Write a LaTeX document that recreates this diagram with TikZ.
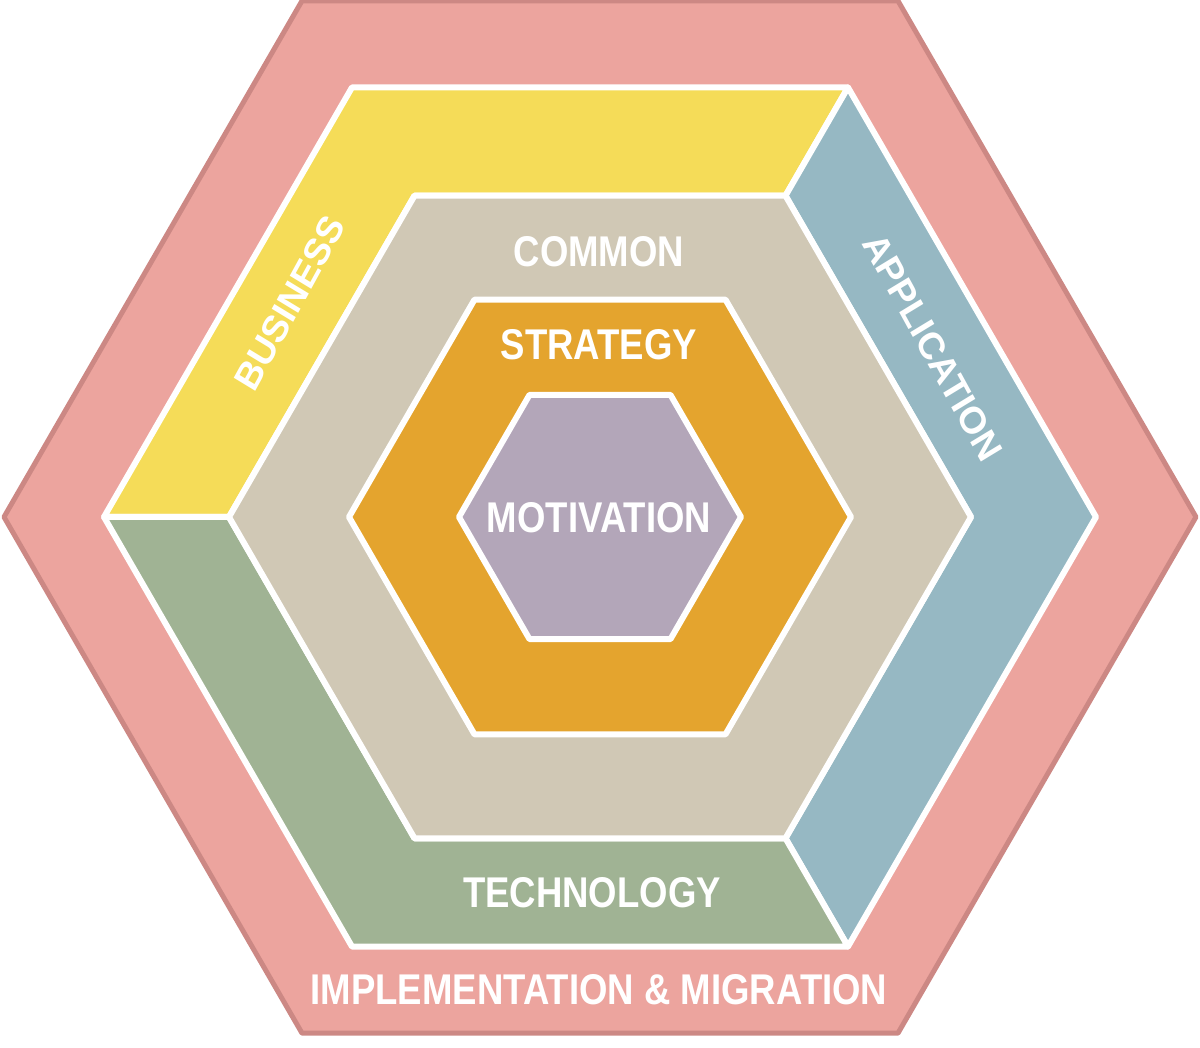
\documentclass[tikz,border=0pt]{standalone}
\usepackage{fontspec}
\usepackage{xcolor}
\newfontfamily\boldlab{Liberation Sans}[BoldFont={Liberation Sans Bold}]
\definecolor{outerpink}{HTML}{ECA49E}
\definecolor{outeredge}{HTML}{CC8884}
\definecolor{bizyellow}{HTML}{F5DC58}
\definecolor{appblue}{HTML}{96B8C3}
\definecolor{techgreen}{HTML}{A0B394}
\definecolor{commonbeige}{HTML}{D0C8B5}
\definecolor{stratorange}{HTML}{E4A42E}
\definecolor{motivpurple}{HTML}{B3A6B9}
\tikzset{
layer/.style={draw=white,line width=6pt,line join=round},
caplabel/.style={text=white,inner sep=0pt,xscale=0.85,font=\boldlab\bfseries\fontsize{43}{43}\selectfont},
sidelabel/.style={text=white,inner sep=0pt,xscale=0.95,font=\boldlab\bfseries\fontsize{38}{38}\selectfont}
}

\begin{document}
\begin{tikzpicture}[x=1pt,y=1pt]
\useasboundingbox (-600,-531) rectangle (600,517);

\foreach \i in {0,1,...,5}
{
\coordinate (o\i) at ({596*cos(60*\i)},{596*sin(60*\i)}) ;
\coordinate (b\i) at ({496*cos(60*\i)},{496*sin(60*\i)}) ;
\coordinate (c\i) at ({371*cos(60*\i)},{371*sin(60*\i)}) ;
\coordinate (s\i) at ({251*cos(60*\i)},{251*sin(60*\i)}) ;
\coordinate (m\i) at ({141*cos(60*\i)},{141*sin(60*\i)}) ;
}

\draw[fill=outerpink,draw=outeredge,line width=5pt,line join=round] (o0)--(o1)--(o2)--(o3)--(o4)--(o5)--cycle ;
\draw[layer,fill=bizyellow] (b3)--(b2)--(b1)--(c1)--(c2)--(c3)--cycle ;
\draw[layer,fill=appblue] (b1)--(b0)--(b5)--(c5)--(c0)--(c1)--cycle ;
\draw[layer,fill=techgreen] (b3)--(c3)--(c4)--(c5)--(b5)--(b4)--cycle ;
\draw[layer,fill=commonbeige] (c0)--(c1)--(c2)--(c3)--(c4)--(c5)--cycle ;
\draw[layer,fill=stratorange] (s0)--(s1)--(s2)--(s3)--(s4)--(s5)--cycle ;
\draw[layer,fill=motivpurple] (m0)--(m1)--(m2)--(m3)--(m4)--(m5)--cycle ;

\node[caplabel] (common) at (-1,265) {COMMON};
\node[caplabel] (strategy) at (-1,172) {STRATEGY};
\node[caplabel] (motivation) at (-1,-1) {MOTIVATION};
\node[caplabel] (technology) at (-8,-376) {TECHNOLOGY};
\node[caplabel] (implementation) at (-1,-473) {IMPLEMENTATION \& MIGRATION};
\node[sidelabel,rotate=60] (business) at (-310,214) {BUSINESS};
\node[sidelabel,rotate=-60] (application) at (333,170) {APPLICATION};
\end{tikzpicture}
\end{document}
